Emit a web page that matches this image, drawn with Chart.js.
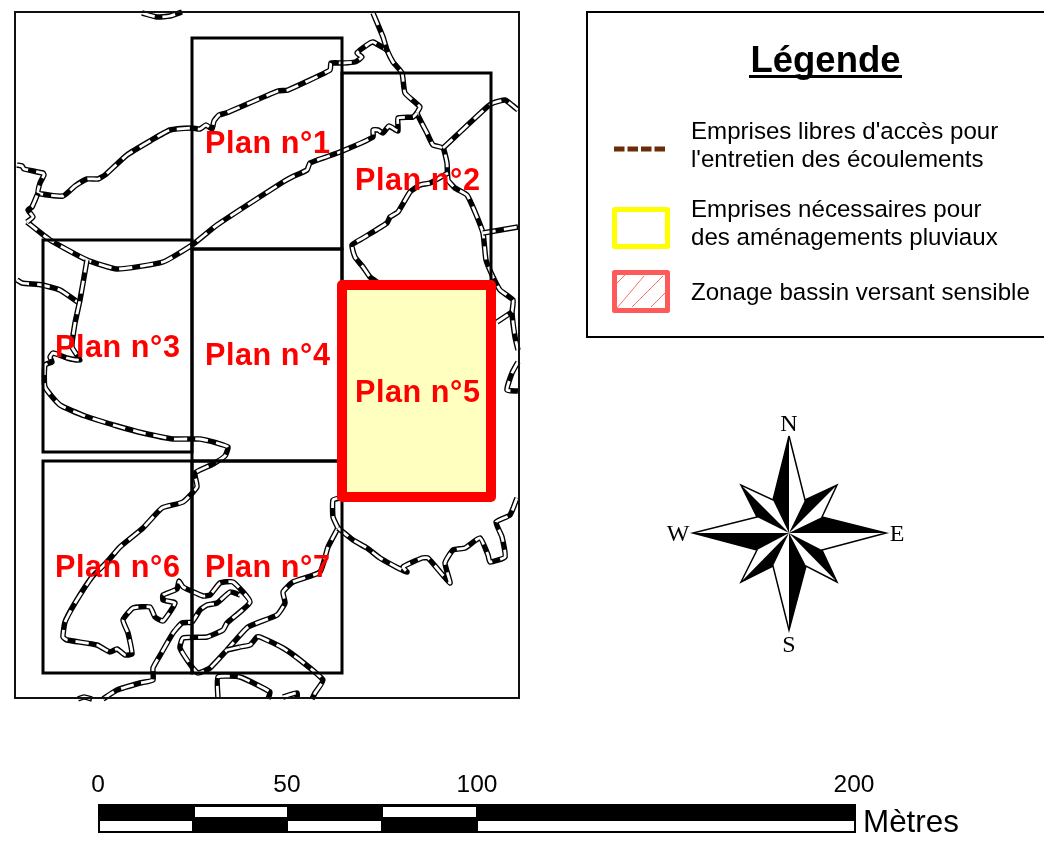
<!DOCTYPE html>
<html lang="fr">
<head>
<meta charset="utf-8">
<title>Plan de repérage</title>
<script src="https://cdn.jsdelivr.net/npm/chart.js@4"></script>
<style>
  html, body { margin: 0; padding: 0; background: #fff; }
  canvas { display: block; }
</style>
</head>
<body>
<canvas id="carte" width="1044" height="864"></canvas>
<script>
// ── DATA ───────────────────────────────────────────────────────────────────────
// Map units; the x and y scales below run over these units.
const riverNorth  = [[17,165],[22,166],[24,169],[43,173],[44,175],[40,183],[38,193],[63,196],[75,186],[87,179],[98,179],[105,175],[127,155],[150,141],[170,130],[192,128],[200,129],[206,125],[212,129],[214,121],[219,115],[226,113],[278,91],[288,90],[330,70],[331,63],[343,63],[355,62],[362,57],[357,53],[367,45],[373,42],[387,50]];
const riverEast   = [[373,13],[383,37],[387,50],[393,62],[402,73],[405,93],[420,107],[417,113],[427,133],[433,145],[443,148],[447,163],[448,180],[455,188],[467,195],[475,212],[483,233],[486,260],[493,277],[500,290],[513,300],[512,313],[515,337],[518,350]];
const riverEdge   = [[518,362],[512,373],[507,390],[518,391]];
const riverMiddle = [[27,222],[50,240],[87,260],[117,269],[163,262],[192,245],[217,225],[283,182],[292,177],[307,170],[310,163],[340,152],[373,137],[373,130],[378,130],[383,133],[389,126],[398,131],[398,118],[413,117],[417,113]];
const riverWest   = [[27,222],[33,217],[28,210],[32,207],[38,193]];
const riverFarW   = [[17,280],[22,283],[42,285],[60,290],[79,303]];
const riverSouth  = [[87,260],[80,300],[75,323],[72,347],[80,360],[67,358],[53,353],[50,357],[52,362],[45,365],[45,387],[60,405],[85,416],[117,426],[143,433],[173,439],[200,439],[217,443],[228,447],[225,456],[213,464],[195,473],[197,487],[183,502],[162,508],[143,528],[120,547],[107,562],[92,577],[75,603],[65,622],[63,637],[67,640],[97,645],[110,652],[117,649],[125,655],[132,654],[128,633],[123,620],[133,608],[150,607],[155,617],[163,621],[175,603],[163,600],[163,595],[177,589],[179,581],[183,587],[203,596],[210,595],[220,583],[233,582],[250,602],[227,623],[223,630],[207,637],[183,638],[180,648],[192,667],[198,673],[210,668],[227,650],[248,627],[277,615],[285,603],[283,592],[293,582],[320,572],[328,547],[338,528]];
const riverInner  = [[103,699],[117,690],[140,683],[153,680],[153,668],[162,652],[173,633],[182,623],[192,622],[200,610],[207,605],[217,603],[230,592],[240,595]];
const riverLow    = [[240,647],[250,645],[257,637],[260,637],[283,648],[300,660],[323,680],[315,693],[312,699]];
const riverLink   = [[227,650],[240,647]];
const riverBottom = [[218,699],[218,677],[240,677],[270,692],[268,699]];
const riverStub   = [[283,697],[297,693],[297,699]];
const riverTop    = [[142,13],[157,17],[170,16],[182,12]];
const riverFoot   = [[78,699],[84,697],[92,699]];
const riverRight  = [[338,528],[333,517],[333,500],[340,498]];
const riverBasin  = [[338,528],[353,540],[367,548],[380,558],[398,568],[407,572],[403,567],[422,558],[428,558],[450,583],[445,563],[453,550],[465,548],[480,538],[488,555],[490,562],[505,557],[502,537],[496,522],[510,515],[517,498]];
const riverNE     = [[443,148],[487,107],[493,103],[505,100],[512,105],[518,110]];
const riverE2     = [[483,233],[518,227]];
const riverE3     = [[497,322],[512,312]];
const riverPlan2  = [[448,173],[430,183],[420,185],[410,192],[398,212],[390,217],[387,223],[363,238],[352,245],[355,257],[363,267],[370,277],[377,282]];
const rivers = [riverNorth, riverEast, riverEdge, riverMiddle, riverWest, riverFarW, riverSouth, riverInner, riverLow, riverLink, riverBottom, riverStub, riverTop, riverFoot, riverRight, riverBasin, riverNE, riverE2, riverE3, riverPlan2];

const mapFrame = [15, 12, 519, 698];
const planNames = ['Plan n°1', 'Plan n°2', 'Plan n°3', 'Plan n°4', 'Plan n°5', 'Plan n°6', 'Plan n°7'];
const planBoxes = [[192,38,342,249], [342,73,491,285], [43,240,192,452], [192,249,342,461], [342,285,491,497], [43,461,192,673], [192,461,342,673]];
const planLabelAt = [[205,153], [355,190], [55,357], [205,365], [355,402], [55,577], [205,577]];
const selectedPlan = 4;

const legendFrame = [[1044,12],[587,12],[587,337],[1044,337]];
const legendLines = ["Emprises libres d'accès pour", "l'entretien des écoulements", 'Emprises nécessaires pour', 'des aménagements pluviaux', 'Zonage bassin versant sensible'];
const legendLineY = [139, 167, 217, 245, 300];
const legendDash  = [[614,149],[665,149]];
const legendYellow = [614.5,209.5,667.5,246.5];
const legendPink   = [614.5,272.5,667.5,310.5];
const legendHatch  = [[[617,283],[625,275]], [[617,308],[644,276]], [[632,307],[663,276]], [[651,307],[665,293]]];

const roseCentre = [789,533];
const roseTips    = [[789,436],[837,485],[886,533],[837,582],[789,630],[741,582],[693,533],[741,485]];
const roseNotches = [[805,500],[822,517],[822,550],[806,566],[773,566],[757,550],[757,517],[773,500]];
const roseLetters = [['N',789,431],['E',897,541],['S',789,652],['W',678,541]];

const scaleBar = [98,804,856,833];
const scaleWhiteTop = [[195,807,287,817], [383,807,476,817]];
const scaleWhiteLow = [[100,821,192,831], [288,821,381,831], [478,821,854,831]];
const scaleTicks = ['0', '50', '100', '200'];
const scaleTickX = [98, 287, 477, 854];

// ── BUILD ──────────────────────────────────────────────────────────────────────
const pts = arr => arr.map(p => ({ x: p[0], y: p[1] }));
// runs past the first corner again so the stroke closes without a notch
const box = b => pts([[b[0],b[1]],[b[2],b[1]],[b[2],b[3]],[b[0],b[3]],[b[0],b[1]],[b[2],b[1]]]);
const line = (data, color, width, extra) => Object.assign({
  data, borderColor: color, borderWidth: width, showLine: true, pointRadius: 0,
  borderJoinStyle: 'round', fill: false
}, extra);
const solid = (data, color) => line(data, color, 0, { fill: 'shape', backgroundColor: color });

// paint order: first pushed = lowest
const layers = [];

rivers.forEach(r => {
  layers.push(line(pts(r), '#000', 5.5, { tension: 0.15 }));
  layers.push(line(pts(r), '#fff', 2.8, { tension: 0.15, borderDash: [13, 8] }));
});

planBoxes.forEach((b, i) => {
  if (i !== selectedPlan) layers.push(line(box(b), '#000', 3, { borderJoinStyle: 'miter' }));
});
layers.push(line(box(planBoxes[selectedPlan]), '#f00', 10, { fill: 'shape', backgroundColor: '#ffffc0' }));
layers.push(line(box(mapFrame), '#111', 2, { borderJoinStyle: 'miter' }));

layers.push(line(pts(legendFrame), '#000', 2, { borderJoinStyle: 'miter' }));
layers.push(line(pts(legendDash), '#6b2c06', 5, { borderDash: [10.5, 3] }));
layers.push(line(box(legendYellow), '#ffff00', 5));
legendHatch.forEach(h => layers.push(line(pts(h), '#ff7070', 1)));
layers.push(line(box(legendPink), '#ff5a5a', 5));

// compass: white star outline, then the black half of each point
const roseStar = [];
roseTips.forEach((t, i) => { roseStar.push(t, roseNotches[i]); });
roseStar.push(roseTips[0]);
layers.push(line(pts(roseStar), '#000', 1.5, { fill: 'shape', backgroundColor: '#fff', borderJoinStyle: 'miter' }));
[[0,7],[2,1],[4,3],[6,5],[1,0],[3,2],[5,4],[7,6]].forEach(([t, n]) => {
  layers.push(solid(pts([roseCentre, roseTips[t], roseNotches[n], roseCentre]), '#000'));
});

layers.push(solid(box(scaleBar), '#000'));
scaleWhiteTop.concat(scaleWhiteLow).forEach(b => layers.push(solid(box(b), '#fff')));

// ── TEXT ───────────────────────────────────────────────────────────────────────
const mapText = {
  id: 'mapText',
  afterDatasetsDraw(chart) {
    const { ctx, scales: { x, y } } = chart;
    const put = (str, px, py, font, color, align, spacing) => {
      ctx.font = font;
      ctx.fillStyle = color;
      ctx.textAlign = align || 'left';
      ctx.textBaseline = 'alphabetic';
      ctx.letterSpacing = spacing || '0px';
      ctx.fillText(str, x.getPixelForValue(px), y.getPixelForValue(py));
    };
    ctx.save();
    planNames.forEach((n, i) => put(n, planLabelAt[i][0], planLabelAt[i][1], 'bold 30.6px "Liberation Sans"', '#f00', 'left', '0.55px'));
    put('Légende', 825.5, 72, 'bold 36.5px "Liberation Sans"', '#000', 'center');
    ctx.fillStyle = '#000';
    ctx.fillRect(x.getPixelForValue(749), y.getPixelForValue(75), 153, 3);
    legendLines.forEach((t, i) => put(t, 691, legendLineY[i], '24.1px "Liberation Sans"', '#000'));
    roseLetters.forEach(l => put(l[0], l[1], l[2], '24px "Liberation Serif"', '#000', 'center'));
    scaleTicks.forEach((t, i) => put(t, scaleTickX[i], 792, '24.5px "Liberation Sans"', '#000', 'center'));
    put('Mètres', 863, 832, '31.4px "Liberation Sans"', '#000');
    ctx.restore();
  }
};

// Chart.js paints the first dataset last, so hand the layers over reversed
new Chart(document.getElementById('carte'), {
  type: 'scatter',
  data: { datasets: layers.reverse() },
  options: {
    responsive: false, animation: false, devicePixelRatio: 1,
    layout: { padding: 0 },
    plugins: { legend: { display: false }, tooltip: { enabled: false } },
    scales: {
      x: { type: 'linear', display: false, min: 0, max: 1044 },
      y: { type: 'linear', display: false, min: 0, max: 864, reverse: true }
    }
  },
  plugins: [mapText]
});
</script>
</body>
</html>
